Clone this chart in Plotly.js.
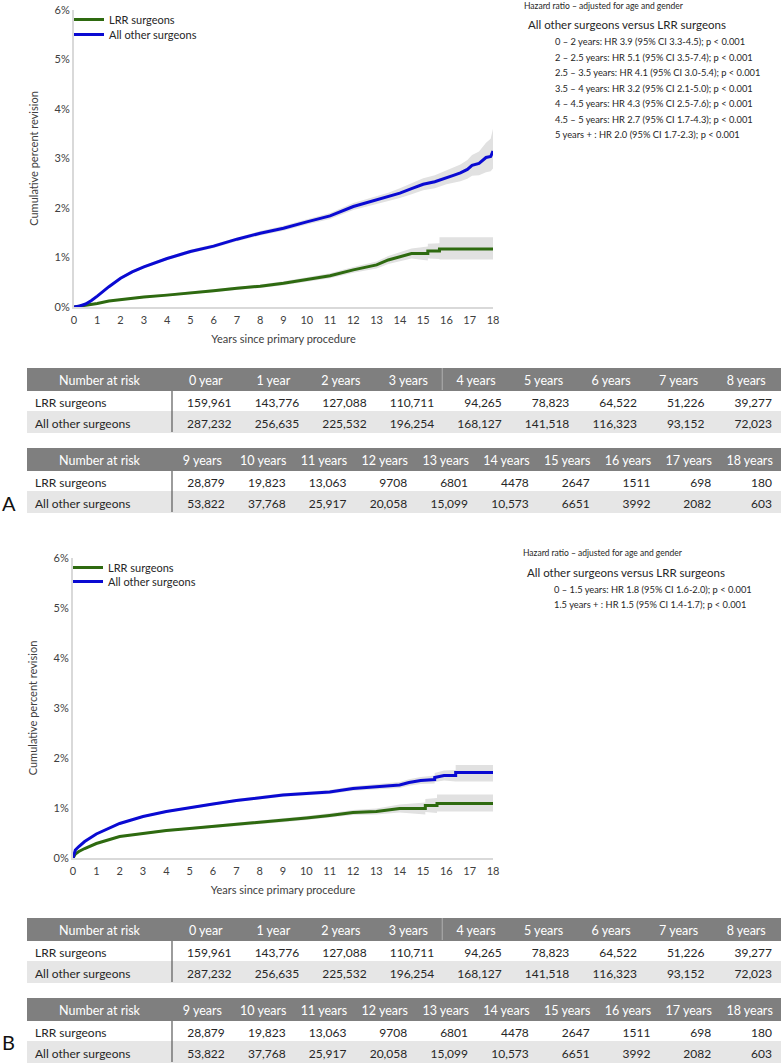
<!DOCTYPE html>
<html>
<head>
<meta charset="utf-8">
<script src="https://cdn.plot.ly/plotly-3.0.1.min.js"></script>
<style>
  html, body { margin: 0; padding: 0; background: #fff; }
  #chart { width: 783px; height: 1064px; }
</style>
</head>
<body>
<div id="chart"></div>
<script>
// ---------------- DATA ----------------
const seriesNames = ['LRR surgeons', 'All other surgeons'];

// Panel A – LRR surgeons
const tA_lrr  = [0, 0.5, 1, 1.5, 2, 3, 4, 5, 6, 7, 8, 9, 10, 11, 12, 13, 13.5, 14, 14.5, 15.2, 15.2, 15.7, 15.7, 18];
const vA_lrr  = [0, 0.03, 0.07, 0.12, 0.15, 0.20, 0.24, 0.28, 0.33, 0.38, 0.42, 0.48, 0.56, 0.63, 0.75, 0.85, 0.95, 1.02, 1.08, 1.08, 1.13, 1.13, 1.17, 1.17];
const uA_lrr  = [0, 0.035, 0.08, 0.135, 0.17, 0.22, 0.265, 0.305, 0.36, 0.41, 0.455, 0.52, 0.605, 0.68, 0.81, 0.92, 1.03, 1.11, 1.18, 1.22, 1.28, 1.29, 1.41, 1.41];
const lA_lrr  = [0, 0.025, 0.06, 0.105, 0.13, 0.18, 0.215, 0.255, 0.30, 0.35, 0.385, 0.44, 0.515, 0.58, 0.69, 0.78, 0.87, 0.93, 0.98, 0.94, 0.98, 0.97, 0.96, 0.96];

// Panel A – All other surgeons
const tA_oth  = [0, 0.25, 0.5, 0.75, 1, 1.25, 1.5, 2, 2.5, 3, 3.5, 4, 4.5, 5, 6, 7, 8, 9, 10, 11, 12, 13, 13.5, 14, 14.5, 15, 15.5, 16, 16.3, 16.6, 16.9, 17.1, 17.4, 17.7, 17.9, 18];
const vA_oth  = [0, 0.02, 0.06, 0.13, 0.22, 0.32, 0.41, 0.58, 0.71, 0.81, 0.90, 0.98, 1.05, 1.12, 1.23, 1.37, 1.49, 1.59, 1.72, 1.84, 2.03, 2.16, 2.22, 2.30, 2.39, 2.48, 2.53, 2.62, 2.66, 2.71, 2.78, 2.86, 2.90, 3.02, 3.04, 3.15];
const uA_oth  = [0, 0.03, 0.07, 0.145, 0.24, 0.34, 0.43, 0.61, 0.74, 0.84, 0.93, 1.01, 1.085, 1.155, 1.27, 1.41, 1.535, 1.64, 1.775, 1.90, 2.10, 2.24, 2.31, 2.40, 2.50, 2.60, 2.66, 2.76, 2.81, 2.88, 2.97, 3.07, 3.14, 3.32, 3.40, 3.60];
const lA_oth  = [0, 0.01, 0.05, 0.115, 0.20, 0.30, 0.39, 0.55, 0.68, 0.78, 0.87, 0.95, 1.015, 1.085, 1.19, 1.33, 1.445, 1.54, 1.665, 1.78, 1.96, 2.08, 2.13, 2.20, 2.28, 2.36, 2.40, 2.48, 2.51, 2.54, 2.59, 2.65, 2.66, 2.72, 2.74, 2.80];

// Panel B – LRR surgeons
const tB_lrr  = [0, 0.05, 0.1, 0.25, 0.5, 1, 1.5, 2, 2.5, 3, 4, 5, 6, 7, 8, 9, 10, 11, 12, 13, 13.6, 14, 15.1, 15.1, 15.6, 15.6, 18];
const vB_lrr  = [0, 0.05, 0.08, 0.13, 0.19, 0.29, 0.36, 0.43, 0.46, 0.49, 0.55, 0.59, 0.63, 0.67, 0.71, 0.75, 0.80, 0.85, 0.91, 0.93, 0.97, 0.99, 0.99, 1.05, 1.05, 1.09, 1.09];
const uB_lrr  = [0, 0.055, 0.09, 0.14, 0.205, 0.305, 0.38, 0.45, 0.48, 0.51, 0.575, 0.615, 0.66, 0.70, 0.74, 0.785, 0.84, 0.895, 0.96, 0.99, 1.04, 1.07, 1.11, 1.18, 1.20, 1.27, 1.27];
const lB_lrr  = [0, 0.045, 0.07, 0.12, 0.175, 0.275, 0.34, 0.41, 0.44, 0.47, 0.525, 0.565, 0.60, 0.64, 0.68, 0.715, 0.76, 0.805, 0.86, 0.87, 0.90, 0.91, 0.87, 0.92, 0.90, 0.93, 0.93];

// Panel B – All other surgeons
const tB_oth  = [0, 0.05, 0.1, 0.25, 0.5, 1, 1.5, 2, 2.5, 3, 4, 5, 6, 7, 8, 9, 10, 11, 12, 13, 13.5, 14, 14.4, 14.9, 15.5, 15.5, 15.9, 16.4, 16.4, 18];
const vB_oth  = [0, 0.10, 0.16, 0.23, 0.33, 0.48, 0.59, 0.69, 0.76, 0.83, 0.93, 1.01, 1.08, 1.15, 1.21, 1.26, 1.29, 1.32, 1.39, 1.43, 1.45, 1.46, 1.51, 1.55, 1.57, 1.61, 1.65, 1.65, 1.71, 1.71];
const uB_oth  = [0, 0.11, 0.17, 0.245, 0.345, 0.50, 0.61, 0.71, 0.78, 0.85, 0.955, 1.035, 1.11, 1.18, 1.24, 1.295, 1.325, 1.36, 1.435, 1.48, 1.505, 1.52, 1.575, 1.62, 1.65, 1.70, 1.75, 1.76, 1.86, 1.86];
const lB_oth  = [0, 0.09, 0.15, 0.215, 0.315, 0.46, 0.57, 0.67, 0.74, 0.81, 0.905, 0.985, 1.05, 1.12, 1.18, 1.225, 1.255, 1.28, 1.345, 1.38, 1.395, 1.40, 1.445, 1.48, 1.49, 1.52, 1.55, 1.54, 1.53, 1.53];

// Number at risk tables (same in both panels)
const riskHeader = 'Number at risk';
const years1 = ['0 year', '1 year', '2 years', '3 years', '4 years', '5 years', '6 years', '7 years', '8 years'];
const lrr1   = ['159,961', '143,776', '127,088', '110,711', '94,265', '78,823', '64,522', '51,226', '39,277'];
const oth1   = ['287,232', '256,635', '225,532', '196,254', '168,127', '141,518', '116,323', '93,152', '72,023'];
const years2 = ['9 years', '10 years', '11 years', '12 years', '13 years', '14 years', '15 years', '16 years', '17 years', '18 years'];
const lrr2   = ['28,879', '19,823', '13,063', '9708', '6801', '4478', '2647', '1511', '698', '180'];
const oth2   = ['53,822', '37,768', '25,917', '20,058', '15,099', '10,573', '6651', '3992', '2082', '603'];

// Hazard ratio texts
const hazTitle   = 'Hazard ratio – adjusted for age and gender';
const hazHeading = 'All other surgeons versus LRR surgeons';
const hazA = [
  '0 – 2 years: HR 3.9 (95% CI 3.3-4.5); p < 0.001',
  '2 – 2.5 years: HR 5.1 (95% CI 3.5-7.4); p < 0.001',
  '2.5 – 3.5 years: HR 4.1 (95% CI 3.0-5.4); p < 0.001',
  '3.5 – 4 years: HR 3.2 (95% CI 2.1-5.0); p < 0.001',
  '4 – 4.5 years: HR 4.3 (95% CI 2.5-7.6); p < 0.001',
  '4.5 – 5 years: HR 2.7 (95% CI 1.7-4.3); p < 0.001',
  '5 years + : HR 2.0 (95% CI 1.7-2.3); p < 0.001'
];
const hazB = [
  '0 – 1.5 years: HR 1.8 (95% CI 1.6-2.0); p < 0.001',
  '1.5 years + : HR 1.5 (95% CI 1.4-1.7); p < 0.001'
];
const panelLabels = ['A', 'B'];
const xTitle = 'Years since primary procedure';
const yTitle = 'Cumulative percent revision';

// ---------------- STYLE ----------------
const W = 783, H = 1064;
const FONT = 'Lato, "Open Sans", sans-serif';
const GREEN = '#2e6a10';
const BLUE = '#0a0ad2';
const BAND = '#e1e1e1';
const AXIS = '#d9d9d9';
const TXT = '#404040';
const HDR = '#7f7f7f';
const ROW2 = '#e6e6e6';
const px = v => v / W;
const py = v => 1 - v / H;
const nb = s => s.replace(/ /g, '\u00a0');

const traces = [];
function addBand(t, u, l, xa, ya) {
  traces.push({x: t, y: l, xaxis: xa, yaxis: ya, type: 'scatter', mode: 'lines',
    line: {width: 0, color: BAND}, hoverinfo: 'skip', showlegend: false});
  traces.push({x: t, y: u, xaxis: xa, yaxis: ya, type: 'scatter', mode: 'lines',
    fill: 'tonexty', fillcolor: BAND, line: {width: 0, color: BAND}, hoverinfo: 'skip', showlegend: false});
}
function addLine(t, v, color, name, xa, ya, legend) {
  traces.push({x: t, y: v, xaxis: xa, yaxis: ya, type: 'scatter', mode: 'lines', name: name,
    line: {width: 3, color: color}, legend: legend, showlegend: true});
}
addBand(tA_lrr, uA_lrr, lA_lrr, 'x', 'y');
addBand(tA_oth, uA_oth, lA_oth, 'x', 'y');
addBand(tB_lrr, uB_lrr, lB_lrr, 'x2', 'y2');
addBand(tB_oth, uB_oth, lB_oth, 'x2', 'y2');
addLine(tA_lrr, vA_lrr, GREEN, seriesNames[0], 'x', 'y', 'legend');
addLine(tA_oth, vA_oth, BLUE, seriesNames[1], 'x', 'y', 'legend2');
addLine(tB_lrr, vB_lrr, GREEN, seriesNames[0], 'x2', 'y2', 'legend3');
addLine(tB_oth, vB_oth, BLUE, seriesNames[1], 'x2', 'y2', 'legend4');

// tables
function makeTable(years, lrr, oth, top) {
  const n = years.length;
  const header = [[nb(riskHeader)]].concat(years.map(y => [nb(y)]));
  const cells = [[nb(seriesNames[0]), nb(seriesNames[1])]].concat(lrr.map((v, i) => [v, oth[i]]));
  const fills = cells.map(() => ['#ffffff', ROW2]);
  return {
    type: 'table',
    domain: {x: [px(27), px(780)], y: [py(top + 67), py(top)]},
    columnwidth: [145].concat(Array(n).fill(608 / n)),
    header: {values: header, align: 'center', height: 22,
      fill: {color: HDR}, line: {width: 1, color: HDR},
      font: {family: FONT, size: 12.5, color: '#ffffff'}},
    cells: {values: cells, align: ['left'].concat(Array(n).fill('right')), height: 21,
      fill: {color: fills}, line: {width: 1, color: fills},
      font: {family: FONT, size: 12, color: '#262626'}}
  };
}
const tableTops = [368, 448, 918, 998];
traces.push(makeTable(years1, lrr1, oth1, tableTops[0]));
traces.push(makeTable(years2, lrr2, oth2, tableTops[1]));
traces.push(makeTable(years1, lrr1, oth1, tableTops[2]));
traces.push(makeTable(years2, lrr2, oth2, tableTops[3]));

// shapes: table dividers
const shapes = [];
tableTops.forEach(top => {
  shapes.push({type: 'line', xref: 'paper', yref: 'paper', x0: px(172), x1: px(172),
    y0: py(top + 23), y1: py(top + 64), line: {color: '#595959', width: 1.2}});
});
[tableTops[0], tableTops[2]].forEach(top => {
  const xd = 172 + 4 * 608 / 9;
  shapes.push({type: 'line', xref: 'paper', yref: 'paper', x0: px(xd), x1: px(xd),
    y0: py(top), y1: py(top + 22), line: {color: '#b0b0b0', width: 1}});
});

// annotations
const annotations = [];
function addHaz(lines, y0, x0) {
  annotations.push({xref: 'paper', yref: 'paper', x: px(x0), y: py(y0), xanchor: 'left', yanchor: 'middle',
    text: hazTitle, showarrow: false, font: {family: FONT, size: 8.5, color: '#262626'}});
  annotations.push({xref: 'paper', yref: 'paper', x: px(x0 + 4), y: py(y0 + 19), xanchor: 'left', yanchor: 'middle',
    text: hazHeading, showarrow: false, font: {family: FONT, size: 11.5, color: '#262626'}});
  lines.forEach((s, i) => {
    annotations.push({xref: 'paper', yref: 'paper', x: px(x0 + 31), y: py(y0 + 36 + i * 15.55), xanchor: 'left', yanchor: 'middle',
      text: s, showarrow: false, font: {family: FONT, size: 9.3, color: '#262626'}});
  });
}
addHaz(hazA, 5.5, 522);
addHaz(hazB, 553, 521);
annotations.push({xref: 'paper', yref: 'paper', x: px(0), y: py(503), xanchor: 'left', yanchor: 'middle',
  text: panelLabels[0], showarrow: false, font: {family: FONT, size: 20, color: '#111'}});
annotations.push({xref: 'paper', yref: 'paper', x: px(0), y: py(1042), xanchor: 'left', yanchor: 'middle',
  text: panelLabels[1], showarrow: false, font: {family: FONT, size: 20, color: '#111'}});

function xAxis(domain, anchor) {
  return {domain: domain, range: [0, 18], dtick: 1, tick0: 0, showgrid: false, zeroline: false,
    showline: true, linecolor: AXIS, linewidth: 2, ticks: '', fixedrange: true, anchor: anchor,
    ticklabelstandoff: 2,
    tickfont: {family: FONT, size: 11, color: TXT},
    title: {text: xTitle, font: {family: FONT, size: 11, color: TXT}, standoff: 10}};
}
function yAxis(domain, anchor) {
  return {domain: domain, range: [0, 6], dtick: 1, tick0: 0, ticksuffix: '%', showgrid: false, zeroline: false,
    showline: true, linecolor: AXIS, linewidth: 2, ticks: '', fixedrange: true, anchor: anchor,
    tickfont: {family: FONT, size: 11, color: TXT},
    title: {text: yTitle, font: {family: FONT, size: 11, color: TXT}, standoff: 14}};
}

const legendBase = {xanchor: 'left', yanchor: 'top', bgcolor: 'rgba(0,0,0,0)', itemwidth: 30,
  font: {family: FONT, size: 11, color: '#262626'}, tracegroupgap: 0};

const layout = {
  width: W, height: H,
  margin: {l: 0, r: 0, t: 0, b: 0},
  paper_bgcolor: '#ffffff', plot_bgcolor: '#ffffff',
  font: {family: FONT},
  showlegend: true,
  xaxis: xAxis([px(74), px(493)], 'y'),
  yaxis: yAxis([py(307), py(10)], 'x'),
  xaxis2: xAxis([px(73), px(493)], 'y2'),
  yaxis2: yAxis([py(858), py(558)], 'x2'),
  legend:  Object.assign({x: px(69), y: py(5)}, legendBase),
  legend2: Object.assign({x: px(69), y: py(20)}, legendBase),
  legend3: Object.assign({x: px(68), y: py(553)}, legendBase),
  legend4: Object.assign({x: px(68), y: py(567)}, legendBase),
  shapes: shapes,
  annotations: annotations
};

Plotly.newPlot('chart', traces, layout, {displayModeBar: false, staticPlot: true});
</script>
</body>
</html>
